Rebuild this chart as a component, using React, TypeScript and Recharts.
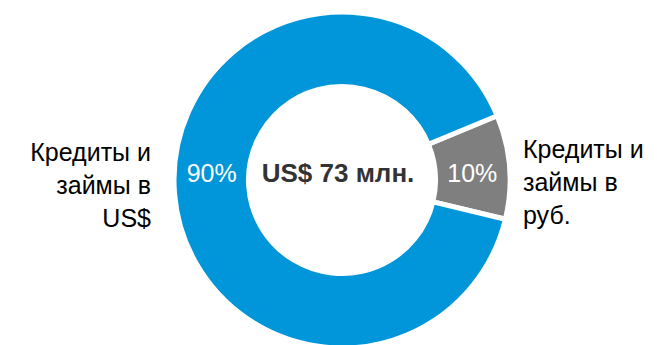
import { PieChart, Pie, Cell } from "recharts";

const categories = ["Кредиты и займы в руб.", "Кредиты и займы в US$"];
const shares = [10, 90];
const nameLines = [
  ["Кредиты и", "займы в", "руб."],
  ["Кредиты и", "займы в", "US$"],
];
const colors = ["#7f7f7f", "#0096d9"];
const totalLabel = "US$ 73 млн.";

const data = categories.map((name, i) => ({ name, value: shares[i], lines: nameLines[i] }));

const RAD = Math.PI / 180;
const FONT = "Liberation Sans, Arial, sans-serif";

function renderLabel(props: any) {
  const { cx, cy, midAngle, innerRadius, outerRadius, percent, index, payload } = props;
  const rm = (innerRadius + outerRadius) / 2;
  const x = cx + rm * Math.cos(-midAngle * RAD);
  const leftSide = Math.cos(-midAngle * RAD) < 0;
  const nx = leftSide ? cx - outerRadius - 23 : cx + outerRadius + 13;
  const ny = leftSide ? cy - 19 : cy - 22;
  const lines: string[] = payload.lines;
  return (
    <g key={`lbl-${index}`}>
      <text x={x} y={cy + 2} fill="#fff" fontSize={25} fontFamily={FONT} textAnchor="middle">
        {`${Math.round(percent * 100)}%`}
      </text>
      {lines.map((l, j) => (
        <text
          key={j}
          x={nx}
          y={ny + j * 33}
          fill="#000"
          fontSize={25}
          fontFamily={FONT}
          textAnchor={leftSide ? "end" : "start"}
        >
          {l}
        </text>
      ))}
    </g>
  );
}

export default function App() {
  return (
    <div style={{ position: "absolute", left: 0, top: 0, width: 659, height: 345 }}>
      <PieChart width={659} height={345}>
        <Pie
          data={data}
          dataKey="value"
          cx={337}
          cy={175}
          innerRadius={93.5}
          outerRadius={168}
          startAngle={-13.5}
          endAngle={346.5}
          stroke="#fff"
          strokeWidth={5}
          isAnimationActive={false}
          labelLine={false}
          label={renderLabel}
        >
          {data.map((d, i) => (
            <Cell key={d.name} fill={colors[i]} />
          ))}
        </Pie>
        <text
          x={338}
          y={182}
          fill="#333"
          fontSize={26}
          fontWeight="bold"
          fontFamily={FONT}
          textAnchor="middle"
        >
          {totalLabel}
        </text>
      </PieChart>
    </div>
  );
}
